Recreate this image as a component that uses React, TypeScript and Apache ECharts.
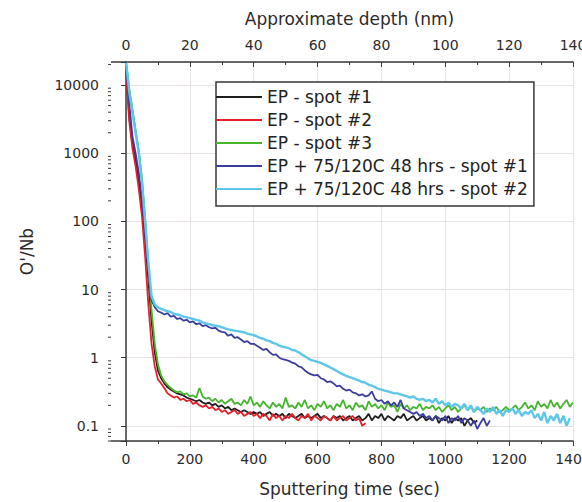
import React, { useEffect, useRef } from 'react';
import * as echarts from 'echarts';

// Sputtering time samples (sec)
const sampleTimes = [
  0, 10, 20, 30, 40, 50, 60, 70, 80, 90, 100, 110, 120, 130, 140, 150, 160, 170, 180, 190,
  200, 210, 220, 230, 240, 250, 260, 270, 280, 290, 300, 310, 320, 330, 340, 350, 360, 370, 380, 390,
  400, 410, 420, 430, 440, 450, 460, 470, 480, 490, 500, 510, 520, 530, 540, 550, 560, 570, 580, 590,
  600, 610, 620, 630, 640, 650, 660, 670, 680, 690, 700, 710, 720, 730, 740, 750, 760, 770, 780, 790,
  800, 810, 820, 830, 840, 850, 860, 870, 880, 890, 900, 910, 920, 930, 940, 950, 960, 970, 980, 990,
  1000, 1010, 1020, 1030, 1040, 1050, 1060, 1070, 1080, 1090, 1100, 1110, 1120, 1130, 1140, 1150, 1160, 1170, 1180, 1190,
  1200, 1210, 1220, 1230, 1240, 1250, 1260, 1270, 1280, 1290, 1300, 1310, 1320, 1330, 1340, 1350, 1360, 1370, 1380, 1390,
  1400,
];

// O/Nb ratio for each series, one value per sample time (from t = 0)
const epSpot1 = [
  18000, 3500, 1400, 800, 380, 160, 55, 14, 3.5, 1.2, 0.65, 0.5, 0.42, 0.37, 0.34, 0.32, 0.3, 0.29, 0.28, 0.26,
  0.25, 0.24, 0.23, 0.24, 0.22, 0.21, 0.22, 0.2, 0.21, 0.19, 0.2, 0.18, 0.19, 0.17, 0.18, 0.17, 0.16, 0.17, 0.16, 0.15,
  0.16, 0.15, 0.16, 0.14, 0.15, 0.16, 0.14, 0.15, 0.14, 0.15, 0.13, 0.15, 0.14, 0.13, 0.14, 0.15, 0.13, 0.14, 0.13, 0.14,
  0.15, 0.13, 0.14, 0.13, 0.12, 0.14, 0.13, 0.14, 0.12, 0.13, 0.14, 0.12, 0.13, 0.14, 0.12, 0.13, 0.15, 0.12, 0.14, 0.13,
  0.15, 0.12, 0.14, 0.13, 0.12, 0.14, 0.13, 0.15, 0.12, 0.13, 0.14, 0.12, 0.13, 0.14, 0.12, 0.13, 0.12, 0.14, 0.11, 0.13,
  0.12, 0.14, 0.11, 0.13, 0.12, 0.13, 0.1, 0.12, 0.13, 0.11, 0.12,
];

const epSpot2 = [
  18000, 3000, 1200, 650, 300, 120, 30, 6, 1.6, 0.75, 0.48, 0.42, 0.36, 0.3, 0.28, 0.26, 0.27, 0.24, 0.25, 0.23,
  0.24, 0.21, 0.22, 0.2, 0.19, 0.2, 0.18, 0.19, 0.17, 0.18, 0.16, 0.17, 0.15, 0.16, 0.17, 0.15, 0.16, 0.14, 0.15, 0.16,
  0.14, 0.15, 0.13, 0.15, 0.14, 0.12, 0.15, 0.13, 0.14, 0.12, 0.14, 0.13, 0.15, 0.13, 0.12, 0.14, 0.13, 0.15, 0.12, 0.14,
  0.13, 0.12, 0.14, 0.13, 0.12, 0.14, 0.12, 0.13, 0.14, 0.12, 0.13, 0.14, 0.12, 0.13, 0.1, 0.11,
];

const epSpot3 = [
  22000, 9000, 4500, 2200, 1100, 420, 110, 22, 5, 1.6, 0.8, 0.55, 0.45, 0.4, 0.36, 0.33, 0.31, 0.32, 0.29, 0.3,
  0.27, 0.28, 0.26, 0.36, 0.27, 0.25, 0.26, 0.23, 0.25, 0.22, 0.24, 0.21, 0.23, 0.25, 0.21, 0.22, 0.2, 0.24, 0.21, 0.27,
  0.2, 0.22, 0.19, 0.23, 0.2, 0.18, 0.22, 0.19, 0.21, 0.18, 0.26, 0.19, 0.2, 0.18, 0.22, 0.19, 0.24, 0.18, 0.2, 0.17,
  0.21, 0.19, 0.23, 0.18, 0.2, 0.17, 0.21, 0.19, 0.24, 0.18, 0.2, 0.17, 0.22, 0.19, 0.2, 0.17, 0.23, 0.19, 0.21, 0.18,
  0.2, 0.17, 0.22, 0.19, 0.2, 0.16, 0.21, 0.18, 0.2, 0.17, 0.19, 0.18, 0.21, 0.17, 0.19, 0.18, 0.2, 0.17, 0.19, 0.16,
  0.18, 0.2, 0.17, 0.19, 0.16, 0.18, 0.2, 0.17, 0.19, 0.16, 0.18, 0.17, 0.19, 0.16, 0.18, 0.17, 0.19, 0.16, 0.17, 0.19,
  0.17, 0.18, 0.2, 0.17, 0.19, 0.22, 0.18, 0.2, 0.17, 0.23, 0.19, 0.21, 0.18, 0.24, 0.19, 0.22, 0.18, 0.21, 0.24, 0.19,
  0.22,
];

const heatedSpot1 = [
  20000, 5500, 1800, 1000, 520, 220, 65, 18, 7, 5.5, 4.8, 4.6, 4.3, 4.5, 4.0, 4.1, 3.7, 3.8, 3.5, 3.6,
  3.3, 3.4, 3.1, 3.2, 2.9, 3.0, 2.8, 2.7, 2.75, 2.5, 2.4, 2.35, 2.1, 2.2, 1.95, 2.0, 1.85, 1.7, 1.75, 1.6,
  1.6, 1.5, 1.4, 1.3, 1.35, 1.2, 1.1, 1.12, 1.0, 0.95, 0.93, 0.9, 0.85, 0.82, 0.75, 0.72, 0.65, 0.6, 0.57, 0.55,
  0.56, 0.5, 0.48, 0.44, 0.45, 0.42, 0.38, 0.39, 0.35, 0.33, 0.34, 0.31, 0.3, 0.28, 0.29, 0.27, 0.28, 0.32, 0.25, 0.23,
  0.24, 0.21, 0.23, 0.2, 0.22, 0.19, 0.24, 0.18, 0.17, 0.16, 0.15, 0.16, 0.14, 0.15, 0.13, 0.14, 0.12, 0.14, 0.13, 0.12,
  0.14, 0.11, 0.13, 0.12, 0.14, 0.11, 0.13, 0.12, 0.1, 0.12, 0.09, 0.11, 0.13, 0.1, 0.12,
];

const heatedSpot2 = [
  22000, 8000, 4000, 2000, 1000, 380, 95, 25, 8, 6, 5.5, 5.2, 5.0, 4.8, 4.7, 4.4, 4.3, 4.2, 4.0, 3.9,
  3.8, 3.7, 3.6, 3.5, 3.3, 3.2, 3.1, 3.0, 2.95, 2.9, 2.8, 2.7, 2.6, 2.55, 2.5, 2.45, 2.4, 2.35, 2.25, 2.2,
  2.15, 2.05, 1.95, 1.9, 1.8, 1.75, 1.65, 1.6, 1.5, 1.45, 1.42, 1.38, 1.3, 1.28, 1.2, 1.12, 1.05, 0.98, 0.92, 0.9,
  0.87, 0.84, 0.8, 0.76, 0.72, 0.68, 0.64, 0.6, 0.57, 0.54, 0.52, 0.5, 0.48, 0.46, 0.44, 0.43, 0.4, 0.39, 0.37, 0.35,
  0.34, 0.33, 0.32, 0.31, 0.3, 0.3, 0.29, 0.28, 0.27, 0.26, 0.27, 0.25, 0.24, 0.25, 0.23, 0.24, 0.22, 0.25, 0.21, 0.23,
  0.2, 0.22, 0.19, 0.21, 0.2, 0.18, 0.21, 0.17, 0.2, 0.16, 0.19, 0.17, 0.15, 0.18, 0.16, 0.19, 0.15, 0.17, 0.14, 0.17,
  0.16, 0.18, 0.15, 0.17, 0.14, 0.16, 0.15, 0.17, 0.13, 0.15, 0.12, 0.16, 0.11, 0.14, 0.12, 0.15, 0.11, 0.14, 0.1, 0.13,
];

const seriesNames = [
  'EP - spot #1',
  'EP - spot #2',
  'EP - spot #3',
  'EP + 75/120C 48 hrs - spot #1',
  'EP + 75/120C 48 hrs - spot #2',
];
const seriesValues = [epSpot1, epSpot2, epSpot3, heatedSpot1, heatedSpot2];
const seriesColors = ['#1e1e1e', '#e6212b', '#46b52d', '#3b3d9e', '#5ec6e8'];
const seriesWidths = [1.8, 1.8, 1.8, 1.8, 2.4];

// minor log ticks on the O/Nb axis
const yMinorTicks = [
  0.06, 0.07, 0.08, 0.09,
  0.2, 0.3, 0.4, 0.5, 0.6, 0.7, 0.8, 0.9,
  2, 3, 4, 5, 6, 7, 8, 9,
  20, 30, 40, 50, 60, 70, 80, 90,
  200, 300, 400, 500, 600, 700, 800, 900,
  2000, 3000, 4000, 5000, 6000, 7000, 8000, 9000,
  20000,
];

const FONT = "'DejaVu Sans', Verdana, sans-serif";
const AXIS_COLOR = '#3c3838';
const LABEL_COLOR = '#2e2a2a';
const GRID_COLOR = '#e8e1e1';

const logLabel = (v: number) => {
  const l = Math.log10(v);
  const e = Math.round(l);
  if (Math.abs(l - e) > 1e-6) return '';
  return e < 0 ? Math.pow(10, e).toFixed(-e) : String(Math.round(Math.pow(10, e)));
};

export default function App() {
  const ref = useRef<HTMLDivElement>(null);

  useEffect(() => {
    if (!ref.current) return;
    const chart = echarts.init(ref.current, null, { renderer: 'svg' });

    const lineSeries = seriesNames.map((name, i) => ({
      type: 'line',
      name,
      data: seriesValues[i].map((v, k) => [sampleTimes[k], v]),
      symbol: 'none',
      showSymbol: false,
      lineStyle: { color: seriesColors[i], width: seriesWidths[i] },
      itemStyle: { color: seriesColors[i] },
      z: 3,
    }));

    const option: any = {
      animation: false,
      backgroundColor: '#ffffff',
      textStyle: { fontFamily: FONT },
      grid: {
        left: 126,
        right: 9,
        top: 62,
        bottom: 61,
        containLabel: false,
        outerBoundsMode: 'none',
      },
      xAxis: [
        {
          type: 'value',
          position: 'bottom',
          min: 0,
          max: 1400,
          interval: 200,
          name: 'Sputtering time (sec)',
          nameLocation: 'middle',
          nameGap: 39,
          nameTextStyle: { fontSize: 17, color: LABEL_COLOR, fontFamily: FONT },
          axisLine: { show: true, lineStyle: { color: AXIS_COLOR, width: 1.5 } },
          axisTick: { show: true, length: 5, lineStyle: { color: AXIS_COLOR } },
          minorTick: { show: true, splitNumber: 2, length: 3, lineStyle: { color: AXIS_COLOR } },
          axisLabel: {
            fontSize: 14,
            color: LABEL_COLOR,
            margin: 11,
            fontFamily: FONT,
            formatter: (v: number) => String(v),
          },
          splitLine: { show: true, lineStyle: { color: GRID_COLOR, width: 1 } },
        },
        {
          type: 'value',
          position: 'top',
          min: 0,
          max: 1400,
          interval: 200,
          name: 'Approximate depth (nm)',
          nameLocation: 'middle',
          nameGap: 35,
          nameTextStyle: { fontSize: 17, color: LABEL_COLOR, fontFamily: FONT },
          axisLine: { show: true, lineStyle: { color: AXIS_COLOR, width: 1.5 } },
          axisTick: { show: true, inside: true, length: 5, lineStyle: { color: AXIS_COLOR } },
          minorTick: { show: true, splitNumber: 2, length: 3, lineStyle: { color: AXIS_COLOR } },
          axisLabel: {
            fontSize: 14,
            color: LABEL_COLOR,
            margin: 10,
            fontFamily: FONT,
            formatter: (v: number) => String(Math.round(v / 10)),
          },
          splitLine: { show: false },
        },
      ],
      yAxis: {
        type: 'log',
        min: 0.06,
        max: 21800,
        offset: 15,
        name: "O'/Nb",
        nameLocation: 'middle',
        nameGap: 76,
        nameTextStyle: { fontSize: 17, color: LABEL_COLOR, fontFamily: FONT },
        axisLine: { show: true, lineStyle: { color: AXIS_COLOR, width: 1.5 } },
        axisTick: { show: true, length: 5, lineStyle: { color: AXIS_COLOR } },
        axisLabel: {
          fontSize: 14,
          color: LABEL_COLOR,
          margin: 12,
          fontFamily: FONT,
          showMinLabel: true,
          showMaxLabel: true,
          formatter: logLabel,
        },
        splitLine: { show: true, lineStyle: { color: GRID_COLOR, width: 1 } },
      },
      legend: {
        orient: 'vertical',
        left: 216,
        top: 82,
        data: seriesNames,
        icon: 'rect',
        itemWidth: 46,
        itemHeight: 2,
        itemGap: 5,
        itemStyle: { borderWidth: 0 },
        padding: [6, 6, 8, 0],
        borderColor: '#3a3636',
        borderWidth: 1.5,
        backgroundColor: '#ffffff',
        textStyle: { fontSize: 17, color: '#222', lineHeight: 18, fontFamily: FONT },
      },
      graphic: [
        {
          type: 'line',
          shape: { x1: 111, y1: 441, x2: 127, y2: 441 },
          style: { stroke: AXIS_COLOR, lineWidth: 1.5 },
          z: 10,
        },
        {
          type: 'line',
          shape: { x1: 111, y1: 62, x2: 127, y2: 62 },
          style: { stroke: AXIS_COLOR, lineWidth: 1.5 },
          z: 10,
        },
      ],
      series: [
        ...lineSeries,
        {
          type: 'custom',
          name: 'yMinorTicks',
          silent: true,
          clip: false,
          z: 4,
          data: yMinorTicks.map((v) => [0, v]),
          encode: { x: 0, y: 1 },
          renderItem: (_params: any, api: any) => {
            const p = api.coord([0, api.value(1)]);
            const x = p[0] - 15;
            return {
              type: 'line',
              shape: { x1: x - 3, y1: p[1], x2: x, y2: p[1] },
              style: { stroke: AXIS_COLOR, lineWidth: 1 },
            };
          },
        },
      ],
    };

    chart.setOption(option);
    return () => chart.dispose();
  }, []);

  return (
    <div
      ref={ref}
      style={{ position: 'absolute', left: 0, top: 0, width: 582, height: 502 }}
    />
  );
}
